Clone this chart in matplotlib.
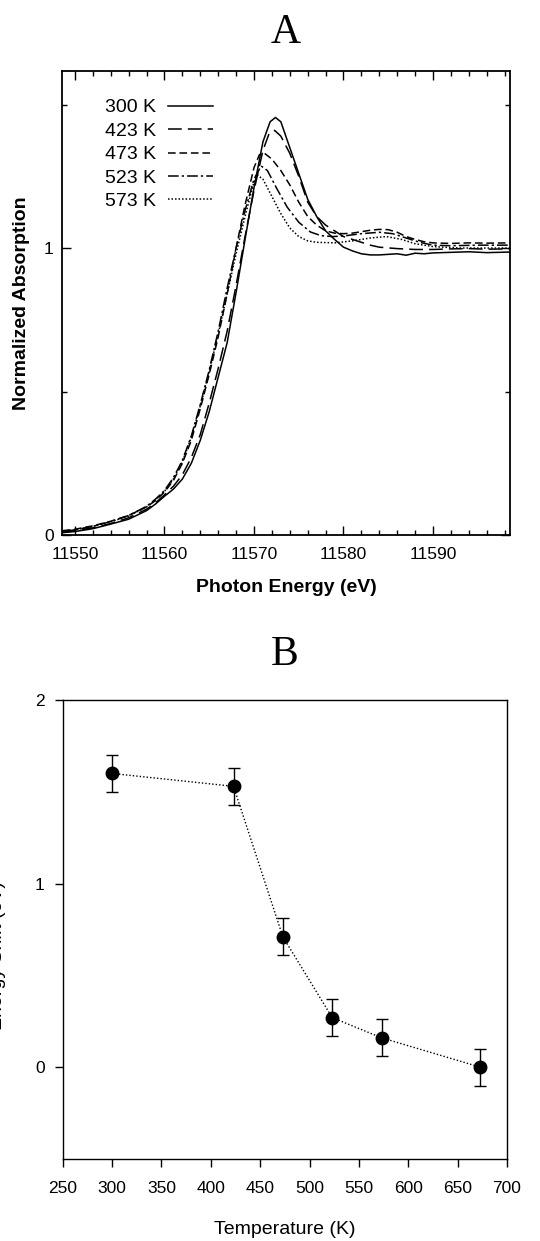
import matplotlib
matplotlib.use("Agg")
import matplotlib.pyplot as plt
from matplotlib.ticker import MultipleLocator

plt.rcParams['font.family'] = ['Liberation Sans', 'DejaVu Sans']

# --- panel A: normalized XANES spectra ---
e_300 = [11548.6, 11550, 11552, 11554, 11556, 11558, 11559, 11560, 11561, 11562, 11563, 11564,
         11565, 11566, 11567, 11568, 11569, 11570, 11571, 11571.8, 11572.4, 11573, 11574, 11575,
         11576, 11577, 11578, 11579, 11580, 11581, 11582, 11583, 11584, 11585, 11586, 11587,
         11588, 11589, 11590, 11592, 11594, 11596, 11598.6]
a_300 = [0.008, 0.012, 0.022, 0.038, 0.055, 0.085, 0.108, 0.135, 0.16, 0.195, 0.25, 0.33,
         0.43, 0.55, 0.67, 0.845, 1.03, 1.21, 1.37, 1.44, 1.455, 1.44, 1.35, 1.26,
         1.17, 1.11, 1.06, 1.03, 1.003, 0.99, 0.98, 0.976, 0.976, 0.978, 0.98, 0.975,
         0.982, 0.98, 0.983, 0.985, 0.987, 0.984, 0.986]

e_423 = [11548.6, 11550, 11552, 11554, 11556, 11558, 11559, 11560, 11561, 11562, 11563, 11564,
         11565, 11566, 11567, 11568, 11569, 11570, 11571, 11571.7, 11572.3, 11573, 11574, 11575,
         11576, 11577, 11578, 11579, 11580, 11581, 11582, 11583, 11584, 11586, 11588, 11590,
         11592, 11594, 11596, 11598.6]
a_423 = [0.01, 0.015, 0.025, 0.04, 0.06, 0.09, 0.112, 0.14, 0.17, 0.21, 0.27, 0.35,
         0.46, 0.58, 0.71, 0.87, 1.04, 1.2, 1.34, 1.4, 1.41, 1.39, 1.33, 1.25,
         1.16, 1.11, 1.08, 1.06, 1.04, 1.03, 1.02, 1.01, 1.003, 0.998, 0.995, 0.995,
         0.997, 0.998, 0.996, 0.997]

e_473 = [11548.6, 11550, 11552, 11554, 11556, 11558, 11559, 11560, 11561, 11562, 11563, 11564,
         11565, 11566, 11567, 11568, 11569, 11570, 11570.6, 11571.1, 11572, 11573, 11574, 11575,
         11576, 11577, 11578, 11579, 11580, 11581, 11582, 11583, 11584, 11585, 11586, 11587,
         11588, 11589, 11590, 11592, 11594, 11596, 11598.6]
a_473 = [0.015, 0.02, 0.032, 0.048, 0.068, 0.098, 0.12, 0.15, 0.19, 0.25, 0.33, 0.44,
         0.56, 0.69, 0.84, 1.0, 1.15, 1.28, 1.325, 1.332, 1.31, 1.27, 1.22, 1.16,
         1.11, 1.08, 1.06, 1.052, 1.05, 1.052, 1.057, 1.062, 1.065, 1.064, 1.055, 1.04,
         1.03, 1.022, 1.018, 1.016, 1.018, 1.017, 1.018]

e_523 = [11548.6, 11550, 11552, 11554, 11556, 11558, 11559, 11560, 11561, 11562, 11563, 11564,
         11565, 11566, 11567, 11568, 11569, 11570, 11570.8, 11571.5, 11572.5, 11573.7, 11575,
         11576.3, 11577.5, 11578.8, 11580, 11582, 11584, 11585.5, 11587, 11588.5, 11590, 11592,
         11595, 11598.6]
a_523 = [0.012, 0.018, 0.03, 0.047, 0.068, 0.1, 0.125, 0.155, 0.2, 0.26, 0.345, 0.455,
         0.575, 0.71, 0.86, 1.0, 1.13, 1.24, 1.286, 1.27, 1.21, 1.143, 1.09,
         1.056, 1.043, 1.04, 1.042, 1.05, 1.055, 1.05, 1.035, 1.02, 1.01, 1.008,
         1.01, 1.01]

e_573 = [11548.6, 11550, 11552, 11554, 11556, 11558, 11559, 11560, 11561, 11562, 11563, 11564,
         11565, 11566, 11567, 11568, 11569, 11570, 11570.4, 11571, 11572, 11573, 11574, 11575,
         11576, 11577, 11579, 11581, 11583, 11584.8, 11586.5, 11588, 11590, 11593, 11596, 11598.6]
a_573 = [0.012, 0.018, 0.03, 0.046, 0.066, 0.098, 0.122, 0.152, 0.195, 0.255, 0.34, 0.45,
         0.57, 0.70, 0.84, 0.98, 1.11, 1.23, 1.254, 1.24, 1.18, 1.12, 1.07, 1.04,
         1.025, 1.02, 1.018, 1.025, 1.035, 1.04, 1.03, 1.015, 1.005, 1.0, 1.0, 1.0]

spectra_labels = ['300 K', '423 K', '473 K', '523 K', '573 K']

# --- panel B: edge energy shift vs temperature ---
temps = [300, 423, 473, 523, 573, 673]
shift = [1.60, 1.53, 0.71, 0.27, 0.16, 0.00]
shift_err = [0.10, 0.10, 0.10, 0.10, 0.10, 0.10]

fig = plt.figure(figsize=(5.4, 12.41), dpi=100)

# ---------------- panel A ----------------
ax1 = fig.add_axes([0.1148, 0.5689, 0.8296, 0.3739])
styles = ['-', (0, (9, 4)), (0, (5, 2.5)), (0, (7, 2, 1.5, 2)), (0, (1, 1.3))]
series = [(e_300, a_300), (e_423, a_423), (e_473, a_473), (e_523, a_523), (e_573, a_573)]
for (e, a), ls, lab in zip(series, styles, spectra_labels):
    ax1.plot(e, a, color='black', lw=1.1, linestyle=ls, label=lab)

ax1.set_xlim(11548.55, 11598.6)
ax1.set_ylim(0, 1.617)
ax1.xaxis.set_major_locator(MultipleLocator(10))
ax1.xaxis.set_minor_locator(MultipleLocator(2))
ax1.yaxis.set_major_locator(MultipleLocator(1))
ax1.yaxis.set_minor_locator(MultipleLocator(0.5))
ax1.tick_params(which='both', direction='in', top=True, right=True, width=1)
ax1.tick_params(which='major', length=6.5)
ax1.tick_params(which='minor', length=3.6)
ax1.tick_params(axis='x', which='major', labelsize=12.5, pad=9)
ax1.tick_params(axis='y', which='major', labelsize=12.5, pad=6)
for s in ax1.spines.values():
    s.set_linewidth(1.3)

ax1.set_xlabel('Photon Energy (eV)', fontsize=14, fontweight='bold')
ax1.set_ylabel('Normalized Absorption', fontsize=14, fontweight='bold')
ax1.xaxis.set_label_coords(0.5, -0.094)
ax1.yaxis.set_label_coords(-0.072, 0.5)
ax1.set_title('A', fontsize=30, family=['Liberation Serif'], pad=20)

ax1.legend(loc='upper left', bbox_to_anchor=(0.095, 0.94), frameon=False, markerfirst=False,
           fontsize=14, handlelength=2.3, handletextpad=0.65, labelspacing=0.3,
           borderpad=0, borderaxespad=0)

# ---------------- panel B ----------------
ax2 = fig.add_axes([0.1161, 0.0661, 0.8228, 0.3698])
ax2.plot(temps, shift, color='black', lw=1, linestyle=(0, (1, 1.5)))
ax2.errorbar(temps, shift, yerr=shift_err, fmt='o', color='black', ms=9,
             capsize=4, elinewidth=1, capthick=1)

ax2.set_xlim(250, 700)
ax2.set_ylim(-0.5, 2)
ax2.xaxis.set_major_locator(MultipleLocator(50))
ax2.set_yticks([0, 1, 2])
ax2.tick_params(direction='out', length=6, width=1, labelsize=12.5)
ax2.tick_params(axis='x', pad=10)
ax2.tick_params(axis='y', pad=7)
for s in ax2.spines.values():
    s.set_linewidth(1)

ax2.set_xlabel('Temperature (K)', fontsize=14)
ax2.set_ylabel('Energy Shift (eV)', fontsize=14)
ax2.xaxis.set_label_coords(0.5, -0.135)
ax2.yaxis.set_label_coords(-0.128, 0.444)
ax2.set_title('B', fontsize=30, family=['Liberation Serif'], pad=25)

fig.savefig('out.png', dpi=100)
